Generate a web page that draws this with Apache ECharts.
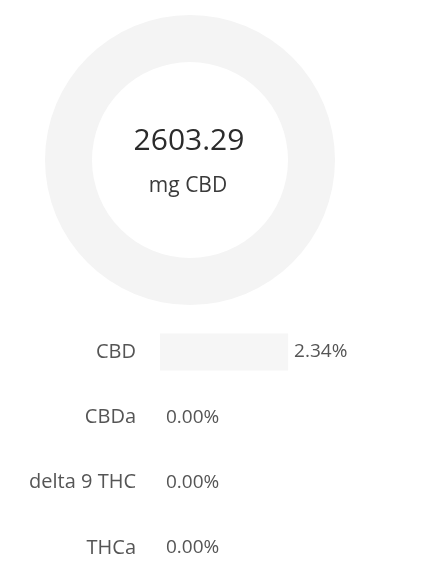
<!DOCTYPE html>
<html>
<head>
<meta charset="utf-8">
<script src="https://cdn.jsdelivr.net/npm/echarts@6/dist/echarts.min.js"></script>
<style>
html,body{margin:0;padding:0;background:#fff;}
#main{width:432px;height:571px;}
</style>
</head>
<body>
<div id="main"></div>
<script>
const categories = ['CBD', 'CBDa', 'delta 9 THC', 'THCa'];
const percentValues = [2.34, 0.00, 0.00, 0.00];
const totalMg = '2603.29';
const totalUnit = 'mg CBD';

const chart = echarts.init(document.getElementById('main'), null, {renderer: 'canvas'});
const font = '"Open Sans", "Noto Sans", sans-serif';

chart.setOption({
  backgroundColor: '#ffffff',
  animation: false,
  graphic: [
    {type: 'text', x: 189, y: 141, style: {text: totalMg, font: '30px ' + font, fill: '#2b2b2b', textAlign: 'center', textVerticalAlign: 'middle'}},
    {type: 'text', x: 188, y: 186, style: {text: totalUnit, font: '21px ' + font, fill: '#3a3a3a', textAlign: 'center', textVerticalAlign: 'middle'}}
  ],
  grid: {left: 160, top: 352, width: 248, height: 196, containLabel: false},
  xAxis: {type: 'value', min: 0, max: 4.53, show: false},
  yAxis: {
    type: 'category',
    data: categories,
    inverse: true,
    boundaryGap: false,
    axisLine: {show: false},
    axisTick: {show: false},
    splitLine: {show: false},
    axisLabel: {fontFamily: font, fontSize: 20, color: '#555', margin: 24}
  },
  series: [
    {
      type: 'pie',
      center: [190, 160],
      radius: [98, 145],
      startAngle: 90,
      silent: true,
      label: {show: false},
      labelLine: {show: false},
      itemStyle: {color: '#f4f4f4'},
      data: categories.map((c, i) => ({name: c, value: percentValues[i]}))
    },
    {
      type: 'bar',
      data: percentValues,
      barWidth: 37,
      itemStyle: {color: '#f6f6f6'},
      label: {
        show: true,
        position: 'right',
        distance: 6,
        fontFamily: font,
        fontSize: 19,
        color: '#555',
        formatter: p => p.value.toFixed(2) + '%'
      }
    }
  ]
});
</script>
</body>
</html>
